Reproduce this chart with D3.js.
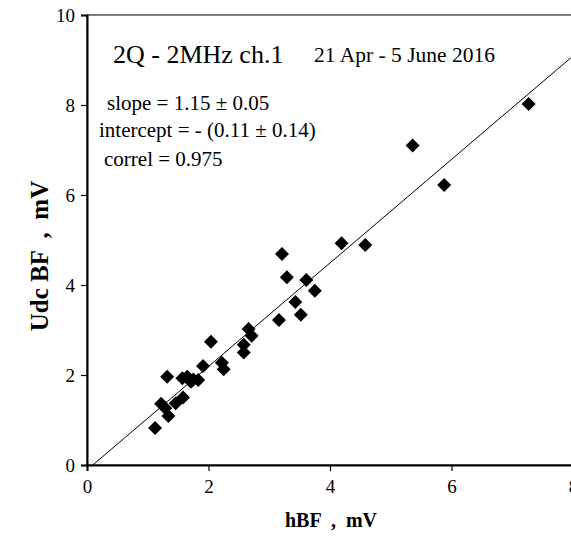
<!DOCTYPE html>
<html>
<head>
<meta charset="utf-8">
<script src="https://cdn.jsdelivr.net/npm/d3@7"></script>
<style>
  body { margin: 0; background: #fff; }
  svg text { font-family: "Liberation Serif", "Times New Roman", serif; fill: #000; }
</style>
</head>
<body>
<div id="chart"></div>
<script>
// hBF (mV) vs Udc BF (mV)
var hbf = [1.12, 1.22, 1.29, 1.34, 1.32, 1.46, 1.58, 1.57, 1.65, 1.71, 1.75, 1.83,
           1.91, 2.04, 2.22, 2.25, 2.58, 2.58, 2.66, 2.71, 3.16, 3.21, 3.29, 3.43,
           3.52, 3.61, 3.75, 4.19, 4.58, 5.36, 5.88, 7.27];
var udc = [0.82, 1.36, 1.26, 1.09, 1.96, 1.37, 1.50, 1.93, 1.96, 1.85, 1.90, 1.89,
           2.20, 2.74, 2.27, 2.13, 2.50, 2.67, 3.02, 2.87, 3.22, 4.69, 4.17, 3.62,
           3.34, 4.11, 3.87, 4.93, 4.89, 7.10, 6.22, 8.02];

var xTicks = [0, 2, 4, 6, 8];
var yTicks = [0, 2, 4, 6, 8, 10];

// regression line
var slope = 1.15, intercept = -0.11;

var notes = ["slope = 1.15 \u00b1 0.05", "intercept = - (0.11 \u00b1 0.14)", "correl = 0.975"];

var w = 571, h = 537;
var pLeft = 87, pTop = 15, pRight = 573, pBottom = 465;

var x = d3.scaleLinear().domain([0, 8]).range([pLeft, pRight]);
var y = d3.scaleLinear().domain([0, 10]).range([pBottom, pTop]);

var svg = d3.select('#chart').append('svg')
    .attr('width', w)
    .attr('height', h);

svg.append('defs').append('clipPath')
    .attr('id', 'plot')
    .append('rect')
    .attr('x', pLeft).attr('y', pTop)
    .attr('width', pRight - pLeft).attr('height', pBottom - pTop);

// plot frame
svg.append('rect')
    .attr('x', pLeft).attr('y', pTop)
    .attr('width', pRight - pLeft).attr('height', pBottom - pTop)
    .attr('fill', 'none')
    .attr('stroke', '#000')
    .attr('stroke-width', 1);

var xAxis = svg.append('g')
    .attr('transform', 'translate(0,' + pBottom + ')')
    .call(d3.axisBottom(x).tickValues(xTicks).tickSize(6).tickPadding(9).tickFormat(d3.format('d')));

var yAxis = svg.append('g')
    .attr('transform', 'translate(' + pLeft + ',0)')
    .call(d3.axisLeft(y).tickValues(yTicks).tickSize(6).tickPadding(6).tickFormat(d3.format('d')));

[xAxis, yAxis].forEach(function (a) {
    a.select('.domain').attr('stroke-width', 2);
    a.selectAll('.tick line').attr('stroke-width', 1.2);
    a.selectAll('.tick text').style('font-size', '19px');
});

// fit line, clipped to plot area
var x0 = -intercept / slope;
svg.append('line')
    .attr('clip-path', 'url(#plot)')
    .attr('x1', x(x0)).attr('y1', y(slope * x0 + intercept))
    .attr('x2', x(8)).attr('y2', y(slope * 8 + intercept))
    .attr('stroke', '#000')
    .attr('stroke-width', 1);

// diamond markers
var r = 7;
svg.selectAll('.pt')
    .data(d3.range(hbf.length))
    .enter()
    .append('path')
    .attr('class', 'pt')
    .attr('d', function (i) {
        var cx = x(hbf[i]), cy = y(udc[i]);
        return 'M' + cx + ',' + (cy - r) + 'L' + (cx + r) + ',' + cy +
               'L' + cx + ',' + (cy + r) + 'L' + (cx - r) + ',' + cy + 'Z';
    })
    .attr('fill', '#000');

// titles and notes
svg.append('text')
    .attr('x', 113).attr('y', 63)
    .style('font-size', '26px')
    .text('2Q - 2MHz ch.1');

svg.append('text')
    .attr('x', 314).attr('y', 62)
    .style('font-size', '21.5px')
    .text('21 Apr - 5 June 2016');

svg.selectAll('.note')
    .data(notes)
    .enter()
    .append('text')
    .attr('class', 'note')
    .attr('x', function (d, i) { return [107, 99, 104][i]; })
    .attr('y', function (d, i) { return [110, 137, 166][i]; })
    .style('font-size', '21px')
    .text(function (d) { return d; });

// axis titles
svg.append('text')
    .attr('x', 331).attr('y', 527)
    .attr('text-anchor', 'middle')
    .style('font-size', '20px')
    .style('font-weight', 'bold')
    .style('white-space', 'pre')
    .text('hBF  ,  mV');

svg.append('text')
    .attr('transform', 'translate(48,256) rotate(-90)')
    .attr('text-anchor', 'middle')
    .style('font-size', '25px')
    .style('font-weight', 'bold')
    .style('white-space', 'pre')
    .text('Udc BF  ,  mV');
</script>
</body>
</html>
